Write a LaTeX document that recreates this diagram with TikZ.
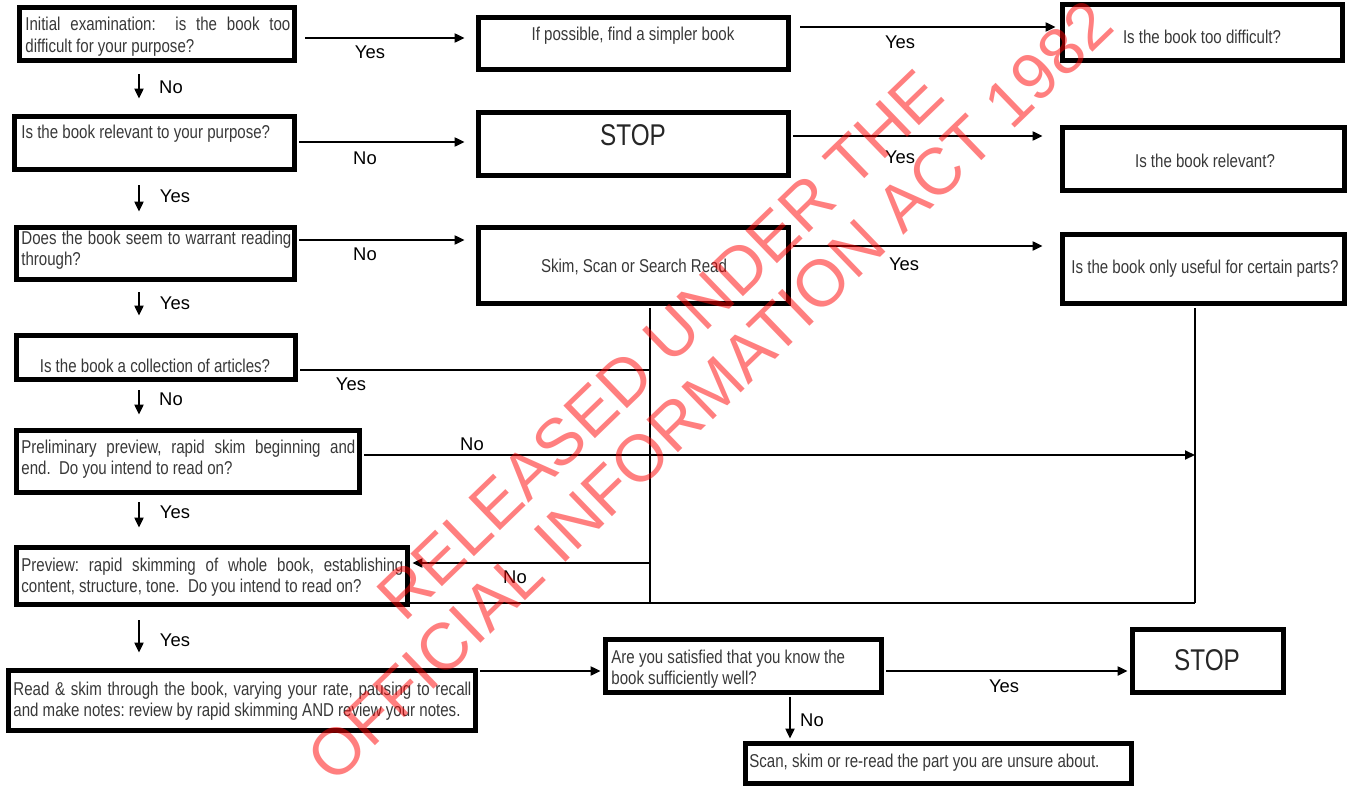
\documentclass[tikz,border=0pt]{standalone}
\usepackage{fontspec}
\setmainfont{Liberation Sans}
\newfontfamily\narrowfont[FakeStretch=0.81]{Liberation Sans}
\usetikzlibrary{arrows.meta}
\newcommand\mybox[5]{\node[bx, minimum width={(#4-#2)*0.5pt-2.4pt}, minimum height={(#5-#3)*0.5pt-2.4pt}] (#1) at ({(#2+#4)/2},{(#3+#5)/2}) {};}
\tikzset{
  bx/.style={draw=black, line width=2.4pt, inner sep=0pt},
  tx/.style={inner sep=0pt, font=\narrowfont\fontsize{9.3}{10.8}\selectfont, text=black!78},
  jtx/.style={tx, anchor=base west, align=justify},
  ctx/.style={tx, anchor=base},
  stoptx/.style={inner sep=0pt, anchor=base, font=\narrowfont\fontsize{15}{18}\selectfont, text=black!85},
  lbl/.style={inner sep=0pt, anchor=base, font=\fontsize{9.2}{11}\selectfont, text=black},
  conn/.style={line width=1pt, draw=black},
  arr/.style={conn, -{Triangle[length=5pt,width=4.5pt]}},
  wm/.style={text=red, text opacity=0.5, font=\fontsize{33}{36}\selectfont, rotate=44, inner sep=0pt}
}
\begin{document}
\frenchspacing
\begin{tikzpicture}[x=0.5pt,y=-0.5pt]
\useasboundingbox (0,0) rectangle (1349,787);
% boxes
\mybox{B1}{17}{5}{297}{63}
\mybox{B2}{476}{15}{791}{72}
\mybox{B3}{1060}{2}{1345}{63}
\mybox{B4}{12}{114}{297}{172}
\mybox{B5}{476}{110}{791}{178}
\mybox{B6}{1060}{125}{1347}{193}
\mybox{B7}{14}{225}{297}{282}
\mybox{B8}{476}{225}{791}{306}
\mybox{B9}{1060}{232}{1347}{306}
\mybox{B10}{14}{333}{298}{382}
\mybox{B11}{14}{428}{362}{495}
\mybox{B12}{14}{545}{410}{607}
\mybox{B13}{6}{668}{478}{733}
\mybox{B14}{603}{637}{884}{695}
\mybox{B15}{1130}{627}{1286}{695}
\mybox{B16}{743}{741}{1134}{786}
% texts
\node[jtx, text width=132.5pt] (T1) at (25,31) {Initial examination:\ \ is the book too\linebreak difficult for your purpose?};
\node[ctx] (T2) at (633,40) {If possible, find a simpler book};
\node[ctx] (T3) at (1202,43) {Is the book too difficult?};
\node[tx, anchor=base west] (T4) at (21,138) {Is the book relevant to your purpose?};
\node[stoptx] (T5) at (633,145) {STOP};
\node[ctx] (T6) at (1205,167) {Is the book relevant?};
\node[jtx, text width=135pt] (T7) at (21,244) {Does the book seem to warrant reading\linebreak through?};
\node[ctx] (T8) at (634,272) {Skim, Scan or Search Read};
\node[ctx] (T9) at (1205,273) {Is the book only useful for certain parts?};
\node[ctx] (T10) at (155,372) {Is the book a collection of articles?};
\node[jtx, text width=167pt] (T11) at (21,453) {Preliminary preview, rapid skim beginning and\linebreak end.\ \ Do you intend to read on?};
\node[jtx, text width=191pt] (T12) at (21,571) {Preview: rapid skimming of whole book, establishing\linebreak content, structure, tone.\ \ Do you intend to read on?};
\node[jtx, text width=229pt] (T13) at (13,695) {Read \& skim through the book, varying your rate, pausing to recall\linebreak and make notes: review by rapid skimming AND review your notes.};
\node[tx, anchor=base west, text width=135pt, align=flush left] (T14) at (611,663) {Are you satisfied that you know the\\book sufficiently well?};
\node[stoptx] (T15) at (1207,670) {STOP};
\node[tx, anchor=base west] (T16) at (749,767) {Scan, skim or re-read the part you are unsure about.};
% junction coordinates
\coordinate (j1) at (650,370);
\coordinate (j2) at (650,563);
\coordinate (j3) at (650,603);
\coordinate (k1) at (1195,455);
\coordinate (k2) at (1195,603);
% horizontal connectors
\draw[arr, shorten <=4.2pt, shorten >=5.7pt] (B1.east |- 0,38) -- (B2.west |- 0,38);
\draw[arr, shorten <=4.7pt, shorten >=2.2pt] (B2.east |- 0,27) -- (B3.west |- 0,27);
\draw[arr, shorten <=1.2pt, shorten >=5.7pt] (B4.east |- 0,142) -- (B5.west |- 0,142);
\draw[arr, shorten <=1.2pt, shorten >=8.7pt] (B5.east |- 0,136) -- (B6.west |- 0,136);
\draw[arr, shorten <=1.2pt, shorten >=5.7pt] (B7.east |- 0,240) -- (B8.west |- 0,240);
\draw[arr, shorten <=1.2pt, shorten >=8.7pt] (B8.east |- 0,246) -- (B9.west |- 0,246);
\draw[conn, shorten <=1.2pt] (B10.east |- j1) -- (j1);
\draw[conn, shorten <=1.2pt] (B8.south -| j3) -- (j3);
\draw[arr, shorten >=1.2pt] (j2) -- (B12.east |- j2);
\draw[arr, shorten <=1.2pt] (B11.east |- k1) -- (k1);
\draw[conn, shorten <=1.2pt] (B9.south -| k2) -- (k2);
\draw[conn] (B12.east |- k2) -- (k2);
\draw[arr, shorten <=1.2pt, shorten >=1.2pt] (B13.east |- 0,671) -- (B14.west |- 0,671);
\draw[arr, shorten <=1.2pt, shorten >=1.2pt] (B14.east |- 0,671) -- (B15.west |- 0,671);
\draw[arr, shorten <=1.2pt, shorten >=1.2pt] (B14.south -| 790,0) -- (B16.north -| 790,0);
% vertical arrows on the left
\draw[arr, shorten <=5.7pt, shorten >=7.7pt] (B1.south -| 139,0) -- (B4.north -| 139,0);
\draw[arr, shorten <=6.7pt, shorten >=6.7pt] (B4.south -| 139,0) -- (B7.north -| 139,0);
\draw[arr, shorten <=5.2pt, shorten >=8.7pt] (B7.south -| 139,0) -- (B10.north -| 139,0);
\draw[arr, shorten <=4.2pt, shorten >=6.7pt] (B10.south -| 139,0) -- (B11.north -| 139,0);
\draw[arr, shorten <=3.7pt, shorten >=8.7pt] (B11.south -| 139,0) -- (B12.north -| 139,0);
\draw[arr, shorten <=6.7pt, shorten >=7.7pt] (B12.south -| 139,0) -- (B13.north -| 139,0);
% labels
\node[lbl] (L1) at (370,58) {Yes};
\node[lbl] (L2) at (900,48) {Yes};
\node[lbl] (L3) at (365,164) {No};
\node[lbl] (L4) at (900,163) {Yes};
\node[lbl] (L5) at (365,260) {No};
\node[lbl] (L6) at (904,270) {Yes};
\node[lbl] (L7) at (171,93) {No};
\node[lbl] (L8) at (175,202) {Yes};
\node[lbl] (L9) at (175,309) {Yes};
\node[lbl] (L10) at (351,390) {Yes};
\node[lbl] (L11) at (171,405) {No};
\node[lbl] (L12) at (472,450) {No};
\node[lbl] (L13) at (175,518) {Yes};
\node[lbl] (L14) at (515,583) {No};
\node[lbl] (L15) at (175,646) {Yes};
\node[lbl] (L16) at (1004,692) {Yes};
\node[lbl] (L17) at (812,726) {No};
% watermark
\node[wm] (W1) at (660,345) {RELEASED UNDER THE};
\node[wm] (W2) at (710,391) {OFFICIAL INFORMATION ACT 1982};
\end{tikzpicture}
\end{document}
